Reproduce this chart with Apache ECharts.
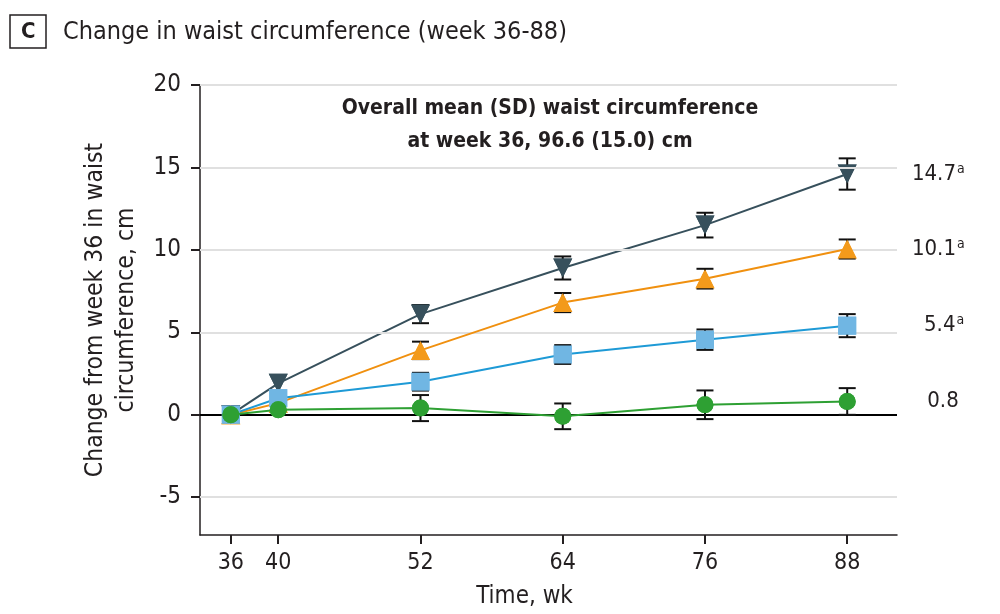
<!DOCTYPE html>
<html>
<head>
<meta charset="utf-8">
<script src="https://cdn.jsdelivr.net/npm/echarts@6/dist/echarts.min.js"></script>
<style>html,body{margin:0;padding:0;background:#fff}#c{width:1000px;height:614px}</style>
</head>
<body>
<div id="c"></div>
<script>
const weeks = [36, 40, 52, 64, 76, 88];
const slateMean = [0, 1.9, 6.1, 8.9, 11.5, 14.6];
const slateErr = [0, 0, 0.55, 0.7, 0.75, 0.95];
const orangeMean = [0, 0.7, 3.9, 6.8, 8.25, 10.05];
const orangeErr = [0, 0, 0.53, 0.58, 0.6, 0.58];
const blueMean = [0, 1.0, 2.0, 3.65, 4.55, 5.4];
const blueErr = [0, 0, 0.54, 0.57, 0.62, 0.7];
const greenMean = [0, 0.3, 0.4, -0.1, 0.6, 0.8];
const greenErr = [0, 0, 0.79, 0.78, 0.87, 0.81];
const endLabels = ['14.7', '10.1', '5.4', '0.8'];
const endSup = ['a', 'a', 'a', ''];
const yTicks = [-5, 0, 5, 10, 15, 20];
const xTicks = [36, 40, 52, 64, 76, 88];
const titleText = 'Change in waist circumference (week 36-88)';
const panelLetter = 'C';
const noteText = 'Overall mean (SD) waist circumference\nat week 36, 96.6 (15.0) cm';
const yName = 'Change from week 36 in waist\ncircumference, cm';
const xName = 'Time, wk';

const FONT = '"Liberation Sans Narrow", "DejaVu Sans Condensed", "Noto Sans", sans-serif';
const TXT = '#231f20';

const groups = [
  {mean: slateMean, err: slateErr, line: '#37505c', fill: '#37505c', symbol: 'triangle', rot: 180, size: 19},
  {mean: orangeMean, err: orangeErr, line: '#f0900f', fill: '#f39a1b', symbol: 'triangle', rot: 0, size: 19},
  {mean: blueMean, err: blueErr, line: '#1e9ad6', fill: '#70b6e3', symbol: 'rect', rot: 0, size: 18},
  {mean: greenMean, err: greenErr, line: '#2ea033', fill: '#2ea033', symbol: 'circle', rot: 0, size: 17}
];

function errRender(params, api) {
  const x = api.value(0), lo = api.value(1), hi = api.value(2);
  const t = api.coord([x, hi]), b = api.coord([x, lo]);
  const w = 8.5;
  const st = {stroke: '#111', lineWidth: 2};
  return {type: 'group', children: [
    {type: 'line', shape: {x1: t[0], y1: t[1], x2: b[0], y2: b[1]}, style: st},
    {type: 'line', shape: {x1: t[0] - w, y1: t[1], x2: t[0] + w, y2: t[1]}, style: st},
    {type: 'line', shape: {x1: b[0] - w, y1: b[1], x2: b[0] + w, y2: b[1]}, style: st}
  ]};
}

const series = [];
series.push({
  type: 'line', data: [], z: 0, silent: true,
  markLine: {
    silent: true, symbol: 'none', label: {show: false}, animation: false,
    data: yTicks.map(v => ({yAxis: v, lineStyle: v === 0 ? {color: '#000', width: 2, type: 'solid'} : {color: '#e0e0e0', width: 2, type: 'solid'}}))
  }
});
groups.forEach((g, gi) => {
  series.push({
    type: 'line', z: 2 + gi * 3,
    data: weeks.map((w, i) => {
      const item = {value: [w, g.mean[i]]};
      if (i === weeks.length - 1) {
        item.label = {
          show: true, position: 'right', distance: 108, align: 'right',
          formatter: '{v|' + endLabels[gi] + '}' + (endSup[gi] ? '{s|' + endSup[gi] + '}' : '{s| }'),
          rich: {
            v: {fontSize: 22, color: TXT, fontFamily: FONT},
            s: {fontSize: 14, color: TXT, fontFamily: FONT, verticalAlign: 'top', padding: [0, 0, 10, 1]}
          }
        };
      }
      return item;
    }),
    symbol: g.symbol, symbolSize: g.size, symbolRotate: g.rot,
    showAllSymbol: true,
    lineStyle: {color: g.line, width: 2},
    itemStyle: {color: g.fill, borderWidth: 0},
    animation: false
  });
  series.push({
    type: 'custom', z: 3 + gi * 3, renderItem: errRender, animation: false,
    data: weeks.map((w, i) => [w, g.mean[i] - g.err[i], g.mean[i] + g.err[i]]).filter((d, i) => g.err[i] > 0)
  });
});
groups.forEach((g, gi) => {
  series.push({
    type: 'scatter', z: 4 + gi * 3, animation: false,
    data: weeks.map((w, i) => [w, g.mean[i]]),
    symbol: g.symbol, symbolSize: g.size, symbolRotate: g.rot,
    itemStyle: {color: g.fill, opacity: 1}
  });
});

const chart = echarts.init(document.getElementById('c'), null, {renderer: 'canvas'});
chart.setOption({
  backgroundColor: '#fff',
  animation: false,
  title: [
    {text: panelLetter, left: 10, top: 15, padding: [6, 11, 5, 11], borderColor: '#231f20', borderWidth: 1.5,
     textStyle: {fontSize: 22, fontWeight: 'bold', color: TXT, fontFamily: FONT}},
    {text: titleText, left: 63, top: 20, padding: 0,
     textStyle: {fontSize: 25, fontWeight: 'normal', color: TXT, fontFamily: FONT}},
    {text: noteText, left: 550, top: 92, textAlign: 'center', padding: 0,
     textStyle: {fontSize: 21, fontWeight: 600, color: TXT, fontFamily: FONT, lineHeight: 33}}
  ],
  grid: {left: 200, right: 103, top: 85, bottom: 77, containLabel: false},
  xAxis: {
    type: 'value', min: 33.4, max: 92.2,
    name: xName, nameLocation: 'middle', nameGap: 50,
    nameTextStyle: {fontSize: 24, color: TXT, fontFamily: FONT, padding: [0, 48, 0, 0]},
    axisLine: {show: true, onZero: false, lineStyle: {color: '#231f20', width: 1.5}},
    axisTick: {show: true, length: 9, customValues: xTicks, lineStyle: {color: '#231f20', width: 2}},
    axisLabel: {customValues: xTicks, fontSize: 23, color: TXT, fontFamily: FONT, margin: 17},
    splitLine: {show: false}
  },
  yAxis: {
    type: 'value', min: -7.3, max: 20,
    name: yName, nameLocation: 'middle', nameGap: 55, nameRotate: 90,
    nameTextStyle: {fontSize: 24.5, color: TXT, fontFamily: FONT, lineHeight: 31},
    axisLine: {show: true, lineStyle: {color: '#231f20', width: 1.5}},
    axisTick: {show: true, length: 9, customValues: yTicks, lineStyle: {color: '#231f20', width: 2}},
    axisLabel: {customValues: yTicks, fontSize: 24, color: TXT, fontFamily: FONT, margin: 19},
    splitLine: {show: false}
  },
  series: series
});
</script>
</body>
</html>
